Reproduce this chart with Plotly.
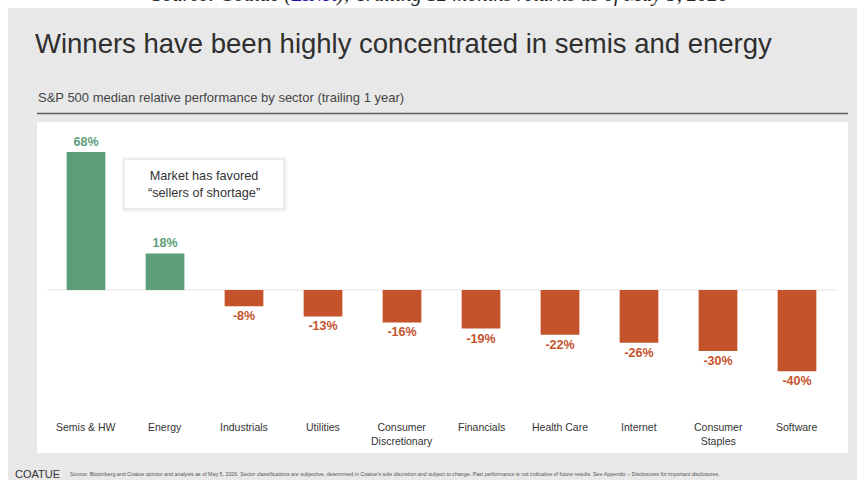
import plotly.graph_objects as go

categories = ["Semis & HW", "Energy", "Industrials", "Utilities", "Consumer<br>Discretionary",
              "Financials", "Health Care", "Internet", "Consumer<br>Staples", "Software"]
values = [68, 18, -8, -13, -16, -19, -22, -26, -30, -40]
value_labels = [f"{v}%" for v in values]

W, H = 862, 480
GREEN = "#5c9e7a"
ORANGE = "#c4532b"

def px(x):
    return x / W

def py(y):
    return 1 - y / H

colors = [GREEN if v >= 0 else ORANGE for v in values]

fig = go.Figure()
fig.add_trace(go.Bar(
    x=list(range(len(categories))), y=values,
    marker=dict(color=colors, line=dict(width=0)),
    width=0.49,
    text=value_labels, textposition="outside",
    textfont=dict(color=colors, size=12.5, family="Liberation Sans", weight="bold"),
    cliponaxis=False, hoverinfo="skip",
))

shapes = [
    # gray slide background
    dict(type="rect", xref="paper", yref="paper", x0=px(8), x1=px(857), y0=py(481), y1=py(8),
         fillcolor="#e8e8e8", line=dict(width=0), layer="below"),
    # white panel
    dict(type="rect", xref="paper", yref="paper", x0=px(37), x1=px(848), y0=py(453), y1=py(122),
         fillcolor="#ffffff", line=dict(width=0), layer="below"),
    # subtitle rule
    dict(type="line", xref="paper", yref="paper", x0=px(37), x1=px(848), y0=py(113.5), y1=py(113.5),
         line=dict(color="#5a5a5a", width=1.5)),
    # zero line
    dict(type="line", xref="x", yref="y", x0=-0.5, x1=9.5, y0=0, y1=0,
         line=dict(color="#e3e3e3", width=1), layer="below"),
    # callout shadow
    dict(type="rect", xref="paper", yref="paper", x0=px(122), x1=px(287), y0=py(212), y1=py(157),
         fillcolor="#f4f4f4", line=dict(width=0)),
    dict(type="rect", xref="paper", yref="paper", x0=px(123.5), x1=px(285), y0=py(210), y1=py(158.5),
         fillcolor="#ebebeb", line=dict(width=0)),
    dict(type="rect", xref="paper", yref="paper", x0=px(125), x1=px(283), y0=py(208), y1=py(160),
         fillcolor="#ffffff", line=dict(width=0)),
]

annotations = [
    dict(xref="paper", yref="paper", x=px(440), y=py(-5), xanchor="center", yanchor="middle",
         text="Source: Coatue (<a href='https://www.coatue.com'><span style='color:#1a0dab'>LINK</span></a>); Trailing 12 months returns as of May 5, 2026",
         showarrow=False, font=dict(family="Liberation Serif", size=20.5, color="#222", style="italic")),
    dict(xref="paper", yref="paper", x=px(33), y=py(43), xanchor="left", yanchor="middle",
         text="Winners have been highly concentrated in semis and energy",
         showarrow=False, font=dict(family="Liberation Sans", size=27.5, color="#2f2f2f")),
    dict(xref="paper", yref="paper", x=px(36), y=py(98), xanchor="left", yanchor="middle",
         text="S&P 500 median relative performance by sector (trailing 1 year)",
         showarrow=False, font=dict(family="Liberation Sans", size=13, color="#444")),
    dict(xref="paper", yref="paper", x=px(204), y=py(184), xanchor="center", yanchor="middle",
         text="Market has favored<br>“sellers of shortage”",
         showarrow=False, font=dict(family="Liberation Sans", size=12.7, color="#333")),
    dict(xref="paper", yref="paper", x=px(13), y=py(474), xanchor="left", yanchor="middle",
         text="COATUE", showarrow=False,
         font=dict(family="Liberation Sans", size=11, color="#333")),
    dict(xref="paper", yref="paper", x=px(68), y=py(474), xanchor="left", yanchor="middle",
         text="Source: Bloomberg and Coatue opinion and analysis as of May 5, 2026. Sector classifications are subjective, determined in Coatue's sole discretion and subject to change. Past performance is not indicative of future results. See Appendix – Disclosures for important disclosures.",
         showarrow=False, font=dict(family="Liberation Sans", size=5.3, color="#555")),
]

for i, c in enumerate(categories):
    annotations.append(dict(xref="x", yref="paper", x=i, y=py(419), xanchor="center", yanchor="top",
                            text=c, showarrow=False,
                            font=dict(family="Liberation Sans", size=10.5, color="#333")))

fig.update_layout(
    width=W, height=H, margin=dict(l=0, r=0, t=0, b=0),
    paper_bgcolor="#ffffff", plot_bgcolor="rgba(0,0,0,0)",
    showlegend=False,
    xaxis=dict(domain=[px(46.5), px(836.5)], range=[-0.5, 9.5], visible=False, fixedrange=True),
    yaxis=dict(domain=[py(453), py(122)], range=[-(453 - 290) / 2.03, (290 - 122) / 2.03],
               visible=False, fixedrange=True),
    shapes=shapes, annotations=annotations,
)

fig.write_html("out.html", config={"displayModeBar": False},
               post_script="document.body.style.margin='0';document.body.style.overflow='hidden';")
